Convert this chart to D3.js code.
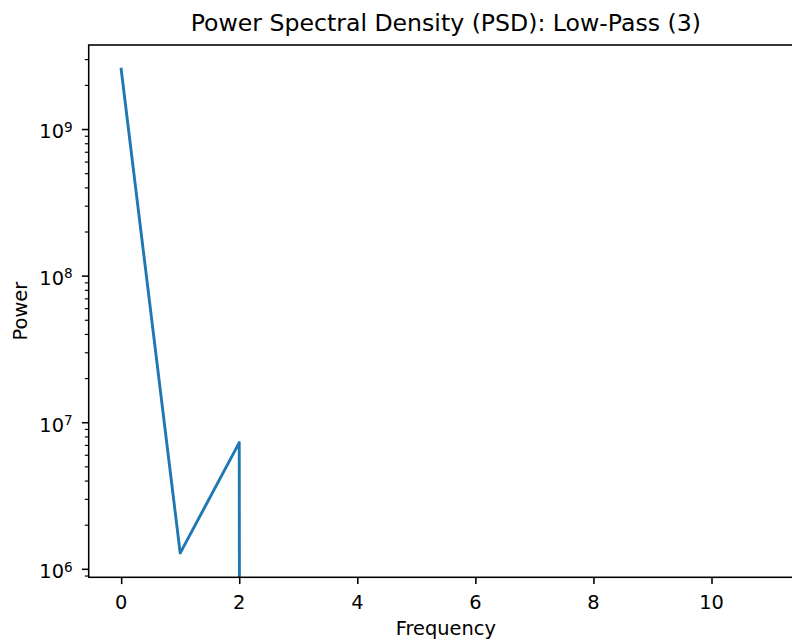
<!DOCTYPE html>
<html>
<head>
<meta charset="utf-8">
<script src="https://cdn.jsdelivr.net/npm/d3@7"></script>
<style>
  body { margin: 0; background: #fff; }
  text { font-family: "DejaVu Sans", sans-serif; fill: #000; }
</style>
</head>
<body>
<div id="chart"></div>
<script>
const WIDTH = 792;
const HEIGHT = 641;

// data
const freqs = [0, 1, 2, 3, 4, 5, 6, 7, 8, 9, 10, 11];
const power = [2.56e9, 1.28e6, 7.26e6, 0, 0, 0, 0, 0, 0, 0, 0, 0];
const xTicks = [0, 2, 4, 6, 8, 10];
const yTickExps = [6, 7, 8, 9];

const title = "Power Spectral Density (PSD): Low-Pass (3)";
const xLabel = "Frequency";
const yLabel = "Power";

// plot box (right side runs past the canvas like the reference)
const plotLeft = 88.7, plotRight = 803, plotTop = 45, plotBottom = 577.3;
const fs = 19.4;      // 10pt
const majorLen = 6.8, minorLen = 3.9;

const svg = d3.select("#chart").append("svg")
  .attr("xmlns", "http://www.w3.org/2000/svg")
  .attr("width", WIDTH)
  .attr("height", HEIGHT)
  .style("display", "block");

// x scale with 5% margins like matplotlib
const xMin = d3.min(freqs), xMax = d3.max(freqs);
const xPad = (xMax - xMin) * 0.05;
const x = d3.scaleLinear()
  .domain([xMin - xPad, xMax + xPad])
  .range([plotLeft, plotRight]);

// y log scale, margins in log space, only positive values count
const pos = power.filter(d => d > 0);
const lMin = Math.log10(d3.min(pos)), lMax = Math.log10(d3.max(pos));
const lPad = (lMax - lMin) * 0.05;
const y = d3.scaleLog()
  .domain([Math.pow(10, lMin - lPad), Math.pow(10, lMax + lPad)])
  .range([plotBottom, plotTop]);

svg.append("defs").append("clipPath").attr("id", "plot")
  .append("rect")
  .attr("x", plotLeft).attr("y", plotTop)
  .attr("width", plotRight - plotLeft).attr("height", plotBottom - plotTop);

// line, zeros pushed far below like matplotlib's clip
const line = d3.line()
  .x((d, i) => x(freqs[i]))
  .y(d => d > 0 ? y(d) : y(1e-300));

svg.append("path")
  .datum(power)
  .attr("clip-path", "url(#plot)")
  .attr("d", line)
  .attr("fill", "none")
  .attr("stroke", "#1f77b4")
  .attr("stroke-width", 2.9)
  .attr("stroke-linejoin", "round")
  .attr("stroke-linecap", "square");

// x axis
const xAxis = svg.append("g")
  .attr("transform", `translate(0,${plotBottom})`)
  .call(d3.axisBottom(x).tickValues(xTicks).tickSize(majorLen).tickFormat(""));
xAxis.select(".domain").remove();
xAxis.selectAll(".tick line").attr("stroke", "#000").attr("stroke-width", 1.56);

svg.append("g").selectAll("text")
  .data(xTicks)
  .join("text")
  .attr("x", d => x(d))
  .attr("y", plotBottom + 31.2)
  .attr("text-anchor", "middle")
  .style("font-size", fs + "px")
  .text(d => d);

// y axis: minor ticks
const [d0, d1] = y.domain();
const minor = [];
for (let e = Math.floor(Math.log10(d0)); e <= Math.ceil(Math.log10(d1)); e++) {
  for (let m = 2; m <= 9; m++) {
    const v = m * Math.pow(10, e);
    if (v >= d0 && v <= d1) minor.push(v);
  }
}
const yMinor = svg.append("g")
  .attr("transform", `translate(${plotLeft},0)`)
  .call(d3.axisLeft(y).tickValues(minor).tickSize(minorLen).tickFormat(""));
yMinor.select(".domain").remove();
yMinor.selectAll(".tick line").attr("stroke", "#000").attr("stroke-width", 1.17);

const majors = yTickExps.map(e => Math.pow(10, e));
const yMajor = svg.append("g")
  .attr("transform", `translate(${plotLeft},0)`)
  .call(d3.axisLeft(y).tickValues(majors).tickSize(majorLen).tickFormat(""));
yMajor.select(".domain").remove();
yMajor.selectAll(".tick line").attr("stroke", "#000").attr("stroke-width", 1.56);

const yLab = svg.append("g").selectAll("text")
  .data(yTickExps)
  .join("text")
  .attr("x", plotLeft - 16)
  .attr("y", d => y(Math.pow(10, d)) + 9.3)
  .attr("text-anchor", "end")
  .style("font-size", fs + "px");
yLab.append("tspan").text("10");
yLab.append("tspan")
  .attr("dy", -6.6)
  .style("font-size", "13.6px")
  .text(d => d);

// spines
svg.append("rect")
  .attr("x", plotLeft).attr("y", plotTop)
  .attr("width", plotRight - plotLeft).attr("height", plotBottom - plotTop)
  .attr("fill", "none")
  .attr("stroke", "#000")
  .attr("stroke-width", 1.56);

// labels
svg.append("text")
  .attr("x", (plotLeft + plotRight) / 2)
  .attr("y", 30.7)
  .attr("text-anchor", "middle")
  .style("font-size", "23.6px")
  .text(title);

svg.append("text")
  .attr("x", (plotLeft + plotRight) / 2)
  .attr("y", 635)
  .attr("text-anchor", "middle")
  .style("font-size", fs + "px")
  .text(xLabel);

svg.append("text")
  .attr("transform", `translate(26.5,${(plotTop + plotBottom) / 2}) rotate(-90)`)
  .attr("text-anchor", "middle")
  .style("font-size", fs + "px")
  .text(yLabel);
</script>
</body>
</html>
